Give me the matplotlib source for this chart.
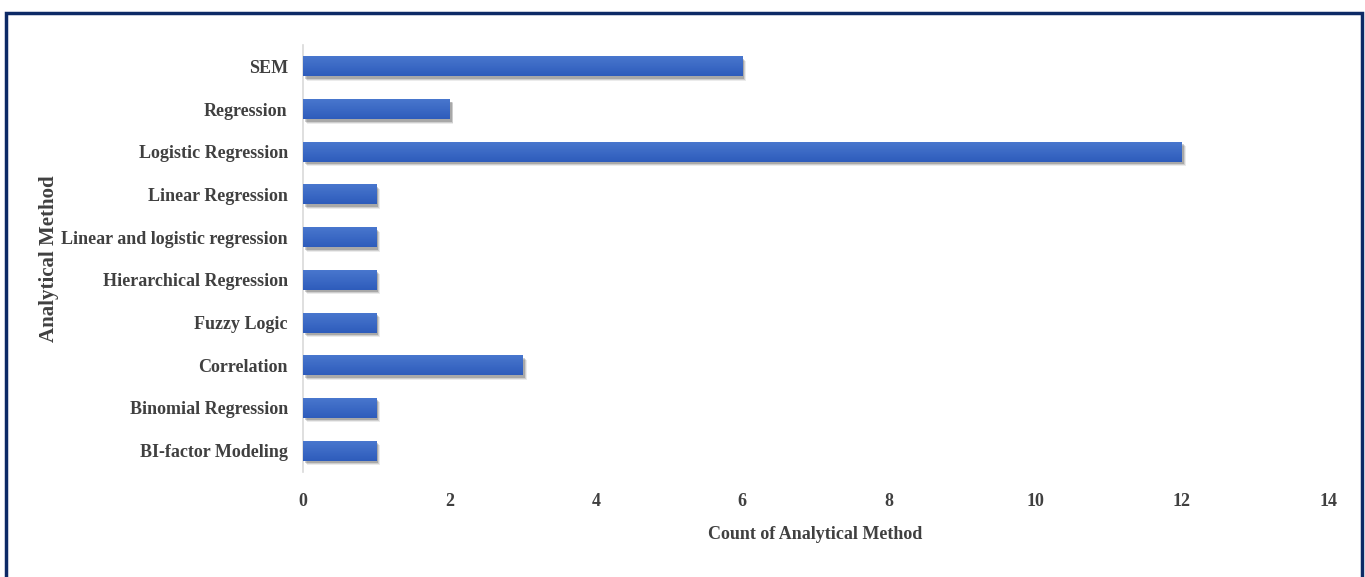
import numpy as np
import matplotlib.pyplot as plt
import matplotlib.patches as mpatches
import matplotlib.patheffects as pe
from matplotlib.colors import LinearSegmentedColormap

plt.rcParams['font.family'] = 'Liberation Serif'
plt.rcParams['font.weight'] = 'bold'
plt.rcParams['axes.labelweight'] = 'bold'

# Donnees (du bas vers le haut)
methods = ['BI-factor Modeling', 'Binomial Regression', 'Correlation', 'Fuzzy Logic',
           'Hierarchical Regression', 'Linear and logistic regression', 'Linear Regression',
           'Logistic Regression', 'Regression', 'SEM']
counts = [1, 1, 3, 1, 1, 1, 1, 12, 2, 6]
xticks = [0, 2, 4, 6, 8, 10, 12, 14]

text_color = '#404040'

fig = plt.figure(figsize=(13.65, 5.77), dpi=100)
ax = fig.add_axes([0.222, 0.182, 0.751, 0.74])

y = np.arange(len(methods))

# Ombre portee sous les barres (plusieurs couches pour l'adoucir)
shadow = [pe.SimplePatchShadow(offset=(2.8, -3.2), shadow_rgbFace='#000000', alpha=0.08),
          pe.SimplePatchShadow(offset=(2.2, -2.5), shadow_rgbFace='#000000', alpha=0.12),
          pe.SimplePatchShadow(offset=(1.5, -1.8), shadow_rgbFace='#000000', alpha=0.18),
          pe.Normal()]
bars = ax.barh(y, counts, height=0.47, color='#3a67c4', zorder=2)
for bar in bars:
    bar.set_path_effects(shadow)

# Degrade vertical sur chaque barre
cmap = LinearSegmentedColormap.from_list('bleu', ['#2e5cbb', '#4a78cf'])
grad = np.linspace(0, 1, 64).reshape(-1, 1)
for bar in bars:
    x0, y0 = bar.get_x(), bar.get_y()
    w, h = bar.get_width(), bar.get_height()
    im = ax.imshow(grad, cmap=cmap, extent=(x0, x0 + w, y0, y0 + h),
                   aspect='auto', origin='lower', zorder=3)
    im.set_clip_path(bar)

ax.set_xlim(0, 14)
ax.set_ylim(-0.5, len(methods) - 0.5)
ax.set_xticks(xticks)
ax.set_yticks(y)
ax.set_yticklabels(methods)
ax.tick_params(axis='both', length=0, labelsize=13, labelcolor=text_color)
ax.tick_params(axis='y', pad=11)
ax.tick_params(axis='x', pad=15)

for side in ['top', 'right', 'bottom']:
    ax.spines[side].set_visible(False)
ax.spines['left'].set_color('#d9d9d9')
ax.spines['left'].set_linewidth(1.2)

ax.set_xlabel('Count of Analytical Method', fontsize=13, color=text_color, labelpad=12)
ax.set_ylabel('Analytical Method', fontsize=15, color=text_color)
ax.yaxis.set_label_coords(-0.238, 0.5)

# Cadre autour de la figure
border = mpatches.Rectangle((6 / 1365, -0.05), 1356 / 1365, 1.05 - 13 / 577,
                            transform=fig.transFigure, fill=False,
                            edgecolor='#0d2a66', linewidth=2.5, clip_on=False)
fig.patches.append(border)

fig.savefig('out.png', dpi=100)
